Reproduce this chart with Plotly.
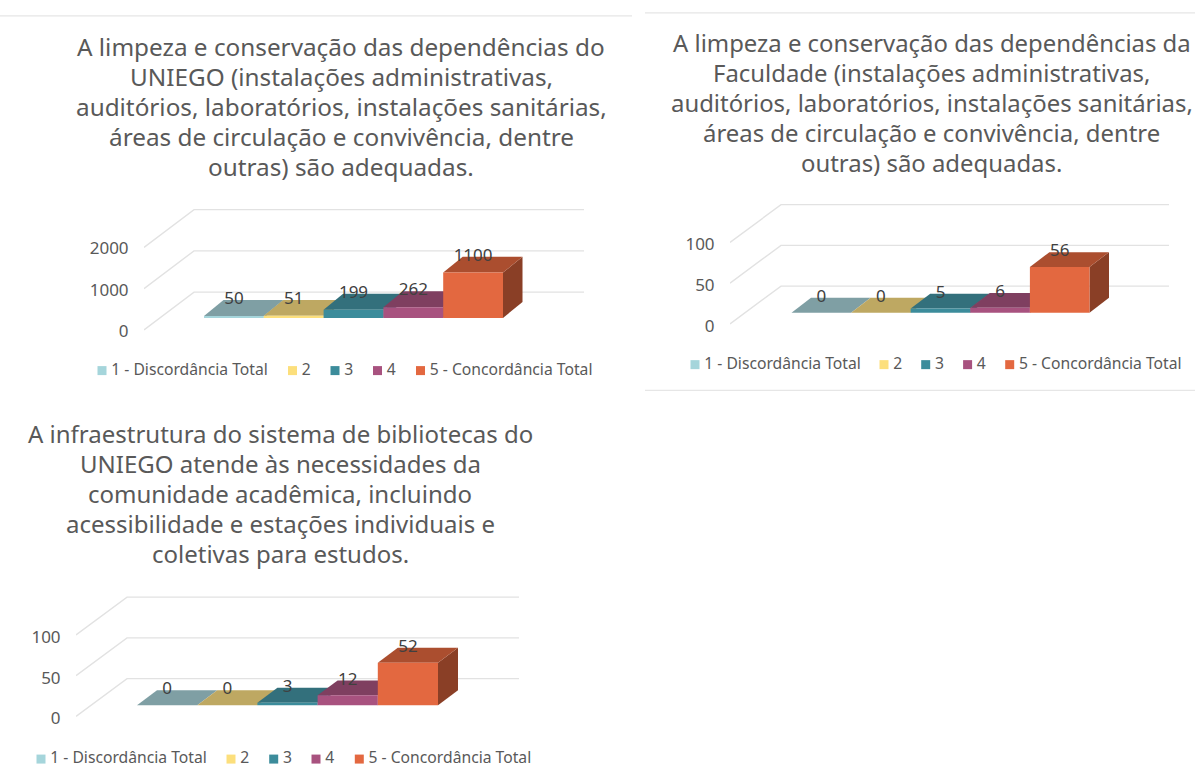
import plotly.graph_objects as go

categories = ["1 - Discordância Total", "2", "3", "4", "5 - Concordância Total"]
values_uniego = [50, 51, 199, 262, 1100]
values_faculdade = [0, 0, 5, 6, 56]
values_biblioteca = [0, 0, 3, 12, 52]
ticks_uniego = [0, 1000, 2000]
ticks_percent = [0, 50, 100]
title_uniego = ["A limpeza e conservação das dependências do", "UNIEGO (instalações administrativas,",
                "auditórios, laboratórios, instalações sanitárias,", "áreas de circulação e convivência, dentre",
                "outras) são adequadas."]
title_faculdade = ["A limpeza e conservação das dependências da", "Faculdade (instalações administrativas,",
                   "auditórios, laboratórios, instalações sanitárias,", "áreas de circulação e convivência, dentre",
                   "outras) são adequadas."]
title_biblioteca = ["A infraestrutura do sistema de bibliotecas do", "UNIEGO atende às necessidades da",
                    "comunidade acadêmica, incluindo", "acessibilidade e estações individuais e",
                    "coletivas para estudos."]

front_colors = ["#A5D5DB", "#FCDF7C", "#3C8C9B", "#A8527F", "#E36840"]
top_colors = ["#7F9FA4", "#BEA862", "#33707C", "#7F3F60", "#AB4E2F"]
side_colors = ["#7A979B", "#B09A58", "#2C636E", "#6E3654", "#8A3F26"]
GRID = "#E2E2E2"
TEXT = "#595959"
LABEL = "#404040"
W, H = 1195, 776
FONT = "Noto Sans"

charts = [
    dict(values=values_uniego, ticks=ticks_uniego, title=title_uniego, tx=341, ty=47, title_size=24.3,
         px_unit=0.0415, zero=333, grid_lift=1, x_front=144, x_back=194, x_end=584, depth_y=38,
         bar_x=204, bar_w=59.8, bar_base=320, dx=19.5, dy=16, leg_x=102, leg_y=373,
         leg_off=[0, 190.5, 233, 275.5, 318.5]),
    dict(values=values_faculdade, ticks=ticks_percent, title=title_faculdade, tx=931.5, ty=43, title_size=23.9,
         px_unit=0.82, zero=328, grid_lift=2, x_front=730, x_back=781, x_end=1169, depth_y=38,
         bar_x=791.5, bar_w=59.6, bar_base=314.7, dx=19.5, dy=15, leg_x=695, leg_y=367,
         leg_off=[0, 189, 230.7, 272.6, 314.7]),
    dict(values=values_biblioteca, ticks=ticks_percent, title=title_biblioteca, tx=280, ty=436, title_size=24,
         px_unit=0.82, zero=723, grid_lift=2, x_front=76, x_back=127, x_end=519, depth_y=38,
         bar_x=137, bar_w=60.2, bar_base=709.7, dx=20, dy=15, leg_x=41, leg_y=764,
         leg_off=[0, 190, 232.7, 275, 318.3]),
]

fig = go.Figure()
layout = dict(width=W, height=H, margin=dict(l=0, r=0, t=0, b=0), autosize=False,
              paper_bgcolor="white", plot_bgcolor="rgba(0,0,0,0)", showlegend=False,
              font=dict(family=FONT, color=TEXT), annotations=[], shapes=[])


def ax_name(n, kind):
    return kind + ("" if n == 1 else str(n))


for k, c in enumerate(charts):
    base_n, over_n = 2 * k + 1, 2 * k + 2
    xb, yb = ax_name(base_n, "x"), ax_name(base_n, "y")
    xo, yo = ax_name(over_n, "x"), ax_name(over_n, "y")
    u = c["px_unit"]
    px_top, px_bot = c["zero"] - 128, c["zero"] + 6
    to_cat = lambda px: (px - c["bar_x"]) / c["bar_w"] - 0.5
    x_range = [to_cat(c["x_front"]), to_cat(c["x_end"])]
    y_range = [(c["zero"] - px_bot) / u, (c["zero"] - px_top) / u]
    x_dom = [c["x_front"] / W, c["x_end"] / W]
    y_dom = [1 - px_bot / H, 1 - px_top / H]
    hidden = dict(visible=False, fixedrange=True)
    layout["xaxis" + ("" if base_n == 1 else str(base_n))] = dict(domain=x_dom, range=x_range, anchor=yb, **hidden)
    layout["yaxis" + ("" if base_n == 1 else str(base_n))] = dict(
        domain=y_dom, range=y_range, anchor=xb, tickmode="array", tickvals=c["ticks"],
        ticktext=[str(t) for t in c["ticks"]], showgrid=False, zeroline=False, showline=False,
        ticks="outside", ticklen=11, tickcolor="rgba(0,0,0,0)", tickfont=dict(size=17, color=TEXT),
        fixedrange=True)
    layout["xaxis" + str(over_n)] = dict(domain=x_dom, range=x_range, anchor=yo, overlaying=xb, **hidden)
    layout["yaxis" + str(over_n)] = dict(domain=y_dom, range=y_range, anchor=xo, overlaying=yb, **hidden)

    lift = c["grid_lift"] / u
    dep = c["depth_y"] / u
    for t in c["ticks"]:
        fig.add_trace(go.Scatter(
            x=[to_cat(c["x_front"]), to_cat(c["x_back"]), to_cat(c["x_end"])],
            y=[t + lift, t + lift + dep, t + lift + dep], mode="lines",
            line=dict(color=GRID, width=1.4), hoverinfo="skip", xaxis=xb, yaxis=yb))

    floor = (c["zero"] - c["bar_base"]) / u
    ddx, ddy = c["dx"] / c["bar_w"], c["dy"] / u
    for i, v in enumerate(c["values"]):
        l, r = i - 0.5, i + 0.5
        top = floor + v
        # depth faces: the side, then the top, offset from the bar through the axes
        fig.add_trace(go.Scatter(x=[r, r + ddx, r + ddx, r, r], y=[floor, floor + ddy, top + ddy, top, floor],
                                 mode="lines", fill="toself", fillcolor=side_colors[i], line=dict(width=0),
                                 hoverinfo="skip", xaxis=xb, yaxis=yb))
        fig.add_trace(go.Scatter(x=[l, r, r + ddx, l + ddx, l], y=[top, top, top + ddy, top + ddy, top],
                                 mode="lines", fill="toself", fillcolor=top_colors[i], line=dict(width=0),
                                 hoverinfo="skip", xaxis=xb, yaxis=yb))
    fig.add_trace(go.Bar(x=list(range(len(categories))), y=c["values"], base=[floor] * len(categories),
                         width=1, marker=dict(color=front_colors, line=dict(width=0)),
                         customdata=categories, hovertemplate="%{customdata}: %{y}<extra></extra>",
                         xaxis=xo, yaxis=yo))
    fig.add_trace(go.Scatter(x=list(range(len(categories))), y=[floor + v + ddy for v in c["values"]],
                             mode="text", text=[str(v) for v in c["values"]], textposition="middle center",
                             textfont=dict(size=17, color=LABEL), hoverinfo="skip", xaxis=xo, yaxis=yo))

    for j, line in enumerate(c["title"]):
        layout["annotations"].append(dict(
            text=line, x=c["tx"] / W, y=1 - (c["ty"] + 30.2 * j) / H, xref="paper", yref="paper",
            xanchor="center", yanchor="middle", showarrow=False, align="center",
            font=dict(family=FONT, size=c["title_size"], color=TEXT)))

# Whole-page pixel axes for the hand-placed legends
layout["xaxis7"] = dict(domain=[0, 1], range=[0, W], anchor="y7", visible=False, fixedrange=True)
layout["yaxis7"] = dict(domain=[0, 1], range=[H, 0], anchor="x7", visible=False, fixedrange=True)
for c in charts:
    for i, name in enumerate(categories):
        fig.add_trace(go.Scatter(x=[c["leg_x"] + c["leg_off"][i]], y=[c["leg_y"]], mode="markers+text",
                                 marker=dict(symbol="square", size=9, color=front_colors[i]),
                                 text=["\u2009" + name], textposition="middle right", name=name,
                                 textfont=dict(size=15.7, color=TEXT), hoverinfo="skip",
                                 xaxis="x7", yaxis="y7"))

for x0, x1, y in [(0, 632, 16), (645, 1195, 13), (645, 1195, 393)]:
    layout["shapes"].append(dict(type="line", xref="paper", yref="paper", x0=x0 / W, x1=x1 / W,
                                 y0=1 - y / H, y1=1 - y / H, line=dict(color="#E6E6E6", width=1.2)))

fig.update_layout(**layout)
fig.write_html("out.html", config=dict(displayModeBar=False),
               post_script="document.body.style.margin='0';document.documentElement.style.overflow='hidden';")
